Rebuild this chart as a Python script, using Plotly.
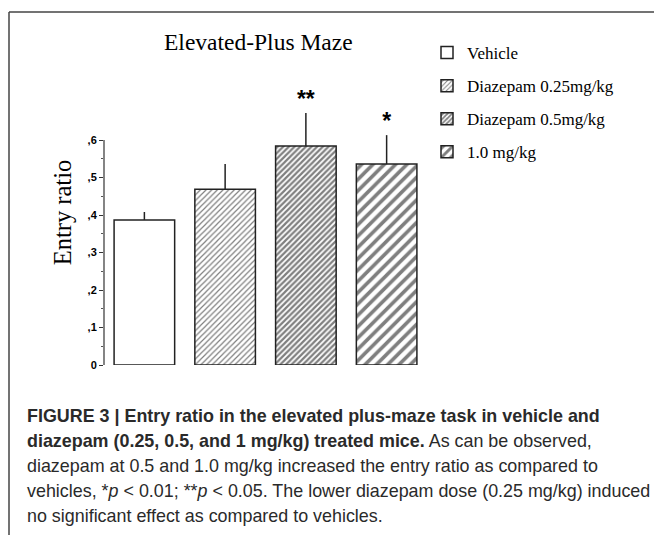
import plotly.graph_objects as go

groups = ["Vehicle", "Diazepam 0.25mg/kg", "Diazepam 0.5mg/kg", "1.0 mg/kg"]
entry_ratio = [0.387, 0.469, 0.584, 0.536]
sem_upper = [0.021, 0.067, 0.088, 0.077]
significance = ["", "", "**", "*"]
tick_values = [0, 0.1, 0.2, 0.3, 0.4, 0.5, 0.6]
tick_labels = ["0", ",1", ",2", ",3", ",4", ",5", ",6"]
minor_tick_values = [0.05, 0.15, 0.25, 0.35, 0.45, 0.55]

pattern_shapes = ["", "/", "/", "/"]
pattern_sizes = [8, 4, 4, 8]
pattern_solidity = [0.3, 0.3, 0.55, 0.45]

caption_lines = [
    "<b>FIGURE 3 | Entry ratio in the elevated plus-maze task in vehicle and</b>",
    "<b>diazepam (0.25, 0.5, and 1 mg/kg) treated mice.</b> As can be observed,",
    "diazepam at 0.5 and 1.0 mg/kg increased the entry ratio as compared to",
    "vehicles, *<i>p</i> &lt; 0.01; **<i>p</i> &lt; 0.05. The lower diazepam dose (0.25 mg/kg) induced",
    "no significant effect as compared to vehicles.",
]

OFF = 8  # page body margin
W, H = 662, 535
L, R, T, B = 96, 243, 52, 178
pw, ph = W - L - R, H - T - B
y_top = ph / 375.0


def px_x(p):
    return (p - OFF - L) / pw


def px_y(p):
    return (H - B - (p - OFF)) / ph


fig = go.Figure()
for i, g in enumerate(groups):
    fig.add_trace(go.Bar(
        x=[i], y=[entry_ratio[i]], name=g,
        marker=dict(color="white", line=dict(color="#222", width=1.5),
                    pattern=dict(shape=pattern_shapes[i], size=pattern_sizes[i],
                                 solidity=pattern_solidity[i], fgcolor="black",
                                 bgcolor="white", fillmode="overlay")),
        error_y=dict(type="data", symmetric=False, array=[sem_upper[i]],
                     arrayminus=[0], width=0, thickness=1.5, color="#222"),
        legendgroup=g, showlegend=True,
    ))

fig.add_trace(go.Scatter(
    x=list(range(len(groups))),
    y=[v + e for v, e in zip(entry_ratio, sem_upper)],
    text=significance, mode="text", textposition="top center",
    textfont=dict(family="Liberation Sans, Arial", size=23, color="black", weight="bold"),
    showlegend=False, hoverinfo="skip",
))

fig.update_layout(
    width=W, height=H,
    margin=dict(l=L, r=R, t=T, b=B, pad=0),
    paper_bgcolor="white", plot_bgcolor="white",
    bargap=0.25,
    showlegend=True,
    legend=dict(x=px_x(427), y=px_y(35), xanchor="left", yanchor="top",
                font=dict(family="Liberation Serif, Times New Roman", size=17, color="black"),
                tracegroupgap=8, bgcolor="rgba(0,0,0,0)"),
    xaxis=dict(range=[-0.5, 3.5], visible=False, fixedrange=True),
    yaxis=dict(range=[0, y_top], tickvals=tick_values, ticktext=tick_labels,
               ticks="outside", ticklen=4, tickwidth=1, tickcolor="#333",
               showline=False, showgrid=False, zeroline=False,
               minor=dict(tickvals=minor_tick_values,
                          ticks="outside", ticklen=2, tickcolor="#555"),
               tickfont=dict(family="Liberation Sans, Arial", size=11, color="black", weight="bold"),
               title=dict(text="Entry ratio", standoff=9,
                          font=dict(family="Liberation Serif, Times New Roman", size=24.5, color="black"))),
    font=dict(family="Liberation Sans, Arial", color="black"),
)

# y axis line only up to the last tick
fig.add_shape(type="line", xref="paper", yref="y", x0=0, x1=0, y0=0, y1=tick_values[-1],
              line=dict(color="#333", width=1.2))
# outer frame (left and top)
fig.add_shape(type="line", xref="paper", yref="paper", x0=px_x(9), x1=px_x(9),
              y0=px_y(12), y1=px_y(560), line=dict(color="#444", width=1.5))
fig.add_shape(type="line", xref="paper", yref="paper", x0=px_x(9), x1=px_x(700),
              y0=px_y(12), y1=px_y(12), line=dict(color="#444", width=1.5))

fig.add_annotation(text="Elevated-Plus Maze", xref="paper", yref="paper",
                   x=px_x(258), y=px_y(42), xanchor="center", yanchor="middle",
                   showarrow=False,
                   font=dict(family="Liberation Serif, Times New Roman", size=23.5, color="black"))

caption_y = [416, 441, 466, 491, 516]
for line, yy in zip(caption_lines, caption_y):
    fig.add_annotation(text=line, xref="paper", yref="paper", x=px_x(25), y=px_y(yy),
                       xanchor="left", yanchor="middle", showarrow=False, align="left",
                       font=dict(family="Liberation Sans, Arial", size=17.9, color="#2a2a2a"))

fig.write_html("out.html")
